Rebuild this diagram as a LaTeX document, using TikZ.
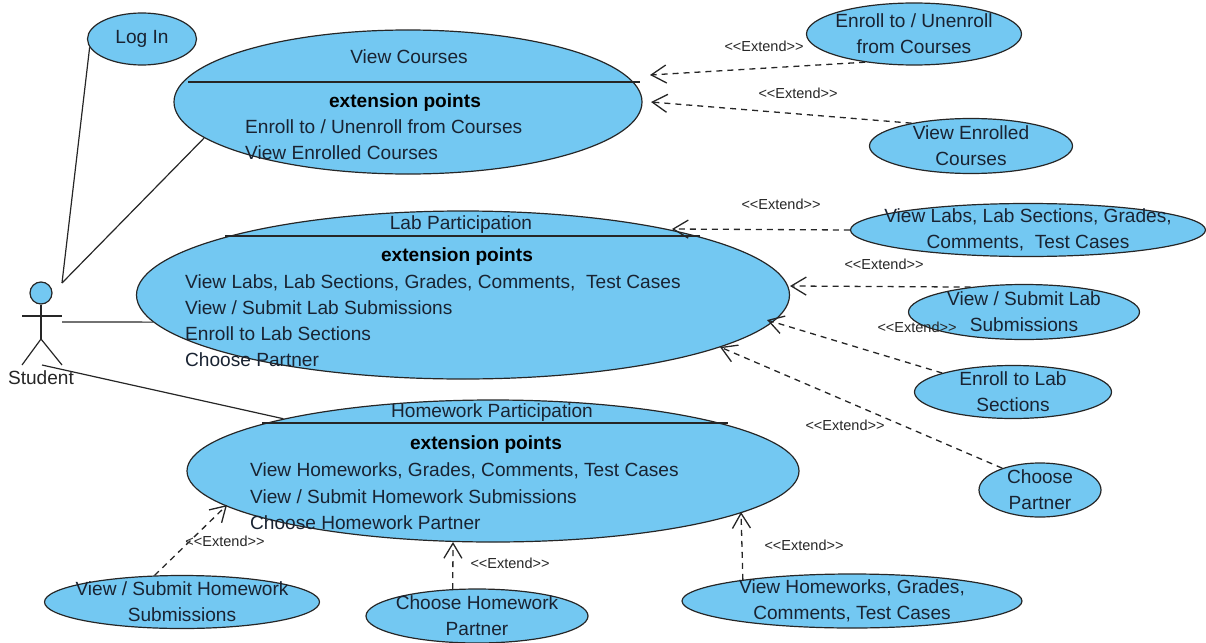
\documentclass[tikz,border=0pt]{standalone}
\usepackage{fontspec}
\setmainfont{Liberation Sans}
\usetikzlibrary{shapes.geometric}
\usetikzlibrary{arrows.meta}
\definecolor{casefill}{RGB}{115,200,242}
\definecolor{casetext}{RGB}{25,35,50}

\begin{document}
\begin{tikzpicture}[x=1pt, y=-1pt,
            usecase/.style={ellipse, draw=black!85, line width=1.2pt, fill=casefill, inner sep=-45pt, align=center, text=casetext, font=\fontsize{19.1}{26}\selectfont},
            rowtext/.style={anchor=west, yshift=-1.5pt, text=casetext, font=\fontsize{19.1}{26}\selectfont, inner sep=0pt},
            headtext/.style={yshift=-1.5pt, text=casetext, font=\fontsize{19.1}{26}\selectfont, inner sep=0pt},
            boldtext/.style={yshift=-1.5pt, text=black, font=\fontsize{19.1}{26}\selectfont\bfseries, inner sep=0pt},
            extendtext/.style={text=black!85, font=\fontsize{14.5}{17}\selectfont, inner sep=0pt},
            solidline/.style={line width=1.2pt, black!85},
            extendline/.style={line width=1.3pt, black!85, dash pattern=on 6pt off 5pt, -{Straight Barb[length=15pt,width=18pt]}}]
            \useasboundingbox (0,0) rectangle (1206,642);

            % Use cases with extension points
            \node[usecase, minimum width=468pt, minimum height=144pt] (viewcourses) at (408,102) {};
            \node[usecase, minimum width=653pt, minimum height=168pt] (labpart) at (463,295) {};
            \node[usecase, minimum width=612pt, minimum height=142pt] (hwpart) at (493,471) {};

            % Separator lines
            \draw[solidline] (188,82) -- (640,82);
            \draw[solidline] (225,236) -- (700,236);
            \draw[solidline] (262,423) -- (728,423);

            % Plain use cases
            \node[usecase, minimum width=109pt, minimum height=52pt] (login) at (142,39) {Log In};
            \node[usecase, minimum width=215pt, minimum height=62pt] (enrollcourses) at (914,34) {Enroll to / Unenroll\\from Courses};
            \node[usecase, minimum width=203pt, minimum height=55pt] (viewenrolled) at (971,146) {View Enrolled\\Courses};
            \node[usecase, minimum width=355pt, minimum height=53pt] (viewlabs) at (1028,230) {View Labs, Lab Sections, Grades,\\Comments,~ Test Cases};
            \node[usecase, minimum width=231pt, minimum height=55pt] (submitlab) at (1024,312) {View / Submit Lab\\Submissions};
            \node[usecase, minimum width=197pt, minimum height=53pt] (enrolllab) at (1013,392) {Enroll to Lab\\Sections};
            \node[usecase, minimum width=122pt, minimum height=54pt] (choosepartner) at (1040,490) {Choose\\Partner};
            \node[usecase, minimum width=275pt, minimum height=53pt] (submithw) at (182,602) {View / Submit Homework\\Submissions};
            \node[usecase, minimum width=222pt, minimum height=54pt] (choosehw) at (477,616) {Choose Homework\\Partner};
            \node[usecase, minimum width=340pt, minimum height=54pt] (viewhw) at (852,601) {View Homeworks, Grades,\\Comments, Test Cases};

            % Texts of View Courses
            \node[headtext] (vctitle) at (409,55) {View Courses};
            \node[boldtext] (vcpoints) at (405,101) {extension points};
            \node[rowtext] (vcrowa) at (245,125) {Enroll to / Unenroll from Courses};
            \node[rowtext] (vcrowb) at (245,151) {View Enrolled Courses};

            % Texts of Lab Participation
            \node[headtext] (labtitle) at (461,223) {Lab Participation};
            \node[boldtext] (labpoints) at (457,255) {extension points};
            \node[rowtext] (labrowa) at (185,281) {View Labs, Lab Sections, Grades, Comments,~ Test Cases};
            \node[rowtext] (labrowb) at (185,306) {View / Submit Lab Submissions};
            \node[rowtext] (labrowc) at (185,332) {Enroll to Lab Sections};
            \node[rowtext] (labrowd) at (185,358) {Choose Partner};

            % Texts of Homework Participation
            \node[headtext] (hwtitle) at (492,411) {Homework Participation};
            \node[boldtext] (hwpoints) at (486,443) {extension points};
            \node[rowtext] (hwrowa) at (250,469) {View Homeworks, Grades, Comments, Test Cases};
            \node[rowtext] (hwrowb) at (250,495) {View / Submit Homework Submissions};
            \node[rowtext] (hwrowc) at (250,521) {Choose Homework Partner};

            % Actor
            \node[circle, draw=black!85, line width=1.2pt, fill=casefill, minimum size=22pt, inner sep=0pt] (studenthead) at (41,293) {};
            \coordinate (hip) at (41,339);
            \coordinate (armleft) at (22,316);
            \coordinate (armright) at (62,316);
            \coordinate (footleft) at (22,365);
            \coordinate (footright) at (62,365);
            \draw[solidline] (studenthead) -- (hip);
            \draw[solidline] (armleft) -- (armright);
            \draw[solidline] (footleft) -- (hip) -- (footright);
            \node[headtext, text=black!85] (student) at (41,376.5) {Student};

            % Student associations
            \coordinate (studentnear) at (62,283);
            \coordinate (studentside) at (62,322);
            \coordinate (studentlow) at (42,365);
            \draw[solidline] (studentnear) -- (login.189);
            \draw[solidline] (studentnear) -- (viewcourses.190);
            \draw[solidline] (studentside) -- (labpart.185);
            \draw[solidline] (studentlow) -- (hwpart.166.7);

            % Arrow tips on the big use cases
            \coordinate (vctipa) at (650,75);
            \coordinate (vctipb) at (651,102);
            \coordinate (labtipa) at (672,229);
            \coordinate (labtipb) at (790,286);
            \coordinate (labtipc) at (767,320);
            \coordinate (labtipd) at (720,347);
            \coordinate (hwtipa) at (227,505);
            \coordinate (hwtipb) at (453,542);
            \coordinate (hwtipc) at (741,512);

            % Extend connectors
            \draw[extendline] (enrollcourses.210) -- (vctipa);
            \draw[extendline] (viewenrolled.159) -- (vctipb);
            \draw[extendline] (viewlabs.west) -- (labtipa);
            \draw[extendline] (submitlab.155) -- (labtipb);
            \draw[extendline] (enrolllab.165) -- (labtipc);
            \draw[extendline] (choosepartner.150) -- (labtipd);
            \draw[extendline] (submithw.136) -- (hwtipa);
            \draw[extendline] (choosehw.132) -- (hwtipb);
            \draw[extendline] (viewhw.169.5) -- (hwtipc);

            % Extend labels
            \node[extendtext] (extenda) at (764,46) {<{}<Extend>{}>};
            \node[extendtext] (extendb) at (798,93) {<{}<Extend>{}>};
            \node[extendtext] (extendc) at (781,204) {<{}<Extend>{}>};
            \node[extendtext] (extendd) at (884,264) {<{}<Extend>{}>};
            \node[extendtext] (extende) at (917,327) {<{}<Extend>{}>};
            \node[extendtext] (extendf) at (845,425) {<{}<Extend>{}>};
            \node[extendtext] (extendg) at (225,541) {<{}<Extend>{}>};
            \node[extendtext] (extendh) at (510,563) {<{}<Extend>{}>};
            \node[extendtext] (extendi) at (804,545) {<{}<Extend>{}>};
\end{tikzpicture}
\end{document}
